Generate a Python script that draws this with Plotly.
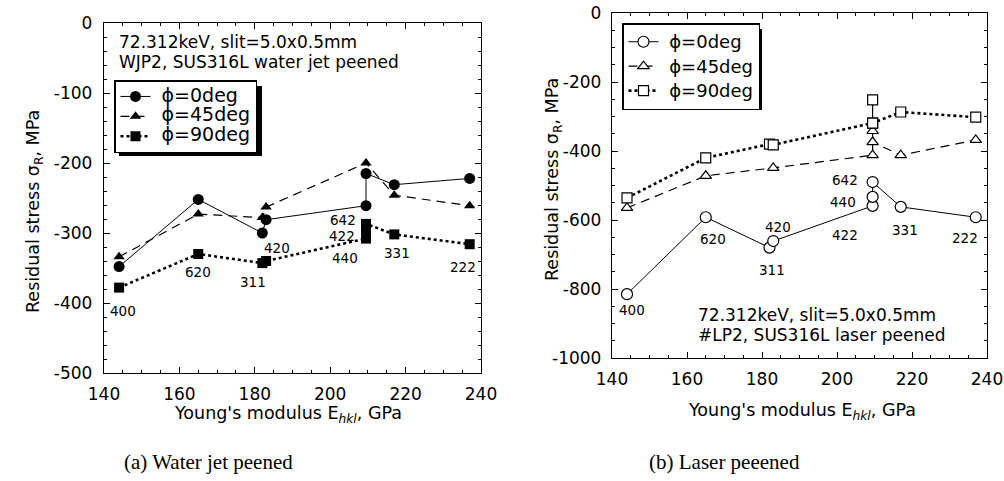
import plotly.graph_objects as go

# ---------------- data ----------------
hkl = ["400", "620", "311", "420", "422", "440", "642", "331", "222"]
E_hkl = [144, 165, 182, 183, 209.5, 209.5, 209.5, 217, 237]

# (a) water jet peened
wjp_0_x = [144, 165, 182, 183, 209.5, 209.5, 217, 237]
wjp_0_y = [-348, -252, -300, -281, -261, -215, -231, -222]
wjp_45_x = [144, 165, 182, 183, 209.5, 217, 237]
wjp_45_y = [-334, -273, -278, -263, -200, -246, -261]
wjp_90_x = [144, 165, 182, 183, 209.5, 209.5, 209.5, 217, 237]
wjp_90_y = [-378, -330, -343, -340, -308, -297, -287, -302, -316]

# (b) laser peened
lp_0_x = [144, 165, 182, 183, 209.5, 209.5, 209.5, 217, 237]
lp_0_y = [-815, -592, -680, -661, -559, -533, -490, -562, -592]
lp_45_x = [144, 165, 183, 209.5, 209.5, 209.5, 217, 237]
lp_45_y = [-565, -472, -449, -412, -342, -374, -412, -368]
lp_90_x = [144, 165, 182, 183, 209.5, 217, 237]
lp_90_y = [-536, -420, -380, -382, -319, -287, -302]
lp_90_extra_x = [209.5, 209.5]
lp_90_extra_y = [-319, -252]

# hkl label placement (data coords) for each panel
wjp_label_x = [145.0, 164.9, 179.5, 185.9, 203.1, 203.9, 203.4, 217.7, 235.2]
wjp_label_y = [-411, -355, -370, -321, -304, -335, -282, -328, -348]
lp_label_x = [145.3, 166.9, 182.7, 184.3, 202.1, 201.6, 202.1, 218.1, 234.1]
lp_label_y = [-861, -655, -745, -620, -643, -548, -484, -629, -652]

# ticks
x_ticks = [140, 160, 180, 200, 220, 240]
x_tick_text = ["140", "160", "180", "200", "220", "240"]
wjp_y_ticks = [0, -100, -200, -300, -400, -500]
wjp_y_tick_text = ["0", "-100", "-200", "-300", "-400", "-500"]
lp_y_ticks = [0, -200, -400, -600, -800, -1000]
lp_y_tick_text = ["0", "-200", "-400", "-600", "-800", "-1000"]

series_names = ["ϕ=0deg", "ϕ=45deg", "ϕ=90deg"]

# ---------------- figure ----------------
W, H = 1004, 481
FONT = "DejaVu Sans, Liberation Sans, sans-serif"
SERIF = "Liberation Serif, DejaVu Serif, serif"
fig = go.Figure()

def px2x(px):
    return px / W

def py2y(py):
    return 1 - py / H

line_styles = [dict(color="black", width=1, dash="solid"),
               dict(color="black", width=1.2, dash="9px,6px"),
               dict(color="black", width=2.6, dash="dot")]
syms = ["circle", "triangle-up", "square"]
msizes = [11, 10, 10]

for i, (xs, ys) in enumerate([(wjp_0_x, wjp_0_y), (wjp_45_x, wjp_45_y), (wjp_90_x, wjp_90_y)]):
    fig.add_trace(go.Scatter(
        x=xs, y=ys, mode="lines+markers",
        name="<span style='font-size:19px'>\u00a0" + series_names[i] + "</span>",
        line=line_styles[i],
        marker=dict(symbol=syms[i], size=msizes[i], color="black"),
        xaxis="x", yaxis="y", legend="legend"))

for i, (xs, ys) in enumerate([(lp_0_x, lp_0_y), (lp_45_x, lp_45_y), (lp_90_x, lp_90_y)]):
    fig.add_trace(go.Scatter(
        x=xs, y=ys, mode="lines+markers",
        name="<span style='font-size:18px'>\u00a0" + series_names[i] + "</span>",
        line=line_styles[i],
        marker=dict(symbol=syms[i], size=msizes[i], color="white",
                    line=dict(width=1.2, color="black")),
        xaxis="x2", yaxis="y2", legend="legend2"))

fig.add_trace(go.Scatter(
    x=lp_90_extra_x, y=lp_90_extra_y, mode="lines+markers", showlegend=False,
    line=dict(color="black", width=1.2),
    marker=dict(symbol="square", size=10, color="white",
                line=dict(width=1.2, color="black")),
    xaxis="x2", yaxis="y2"))

axis_common = dict(
    showgrid=False, zeroline=False, showline=True, linecolor="black", linewidth=1.3,
    mirror="allticks", ticks="inside", ticklen=6, tickwidth=1, tickcolor="black",
    tickfont=dict(family=FONT, size=17, color="black"), automargin=False,
    tickmode="array",
)

fig.update_layout(
    width=W, height=H,
    margin=dict(l=0, r=0, t=0, b=0),
    paper_bgcolor="white", plot_bgcolor="white",
    showlegend=True,
    xaxis=dict(**axis_common, domain=[px2x(104), px2x(481)], range=[140, 240],
               tickvals=x_ticks, ticktext=x_tick_text,
               minor=dict(dtick=5, ticks="inside", ticklen=3, tickcolor="black"),
               anchor="y", ticklabelstandoff=5),
    yaxis=dict(**axis_common, domain=[py2y(373), py2y(23)], range=[-500, 0],
               tickvals=wjp_y_ticks, ticktext=wjp_y_tick_text,
               minor=dict(dtick=20, ticks="inside", ticklen=3, tickcolor="black"),
               anchor="x", ticklabelstandoff=7),
    xaxis2=dict(**axis_common, domain=[px2x(612), px2x(987)], range=[140, 240],
                tickvals=x_ticks, ticktext=x_tick_text,
                minor=dict(dtick=5, ticks="inside", ticklen=3, tickcolor="black"),
                anchor="y2", ticklabelstandoff=5),
    yaxis2=dict(**axis_common, domain=[py2y(358), py2y(13)], range=[-1000, 0],
                tickvals=lp_y_ticks, ticktext=lp_y_tick_text,
                minor=dict(dtick=50, ticks="inside", ticklen=3, tickcolor="black"),
                anchor="x2", ticklabelstandoff=6),
    legend=dict(x=px2x(114), y=py2y(80), xanchor="left", yanchor="top",
                bgcolor="white", bordercolor="black", borderwidth=1.5,
                font=dict(family=FONT, size=13, color="black"),
                tracegroupgap=0, itemwidth=30),
    legend2=dict(x=px2x(622), y=py2y(23), xanchor="left", yanchor="top",
                 bgcolor="white", bordercolor="black", borderwidth=1.5,
                 font=dict(family=FONT, size=16.5, color="black"),
                 tracegroupgap=0, itemwidth=30),
)

# legend shadows
fig.add_shape(type="rect", xref="paper", yref="paper",
              x0=px2x(119), x1=px2x(262), y0=py2y(156), y1=py2y(86),
              fillcolor="black", line=dict(width=0), layer="above")
fig.add_shape(type="rect", xref="paper", yref="paper",
              x0=px2x(628), x1=px2x(762), y0=py2y(110), y1=py2y(29),
              fillcolor="black", line=dict(width=0), layer="above")

def note(x, y, text, font, xanchor="center", textangle=0, xref="paper", yref="paper"):
    fig.add_annotation(x=x, y=y, xref=xref, yref=yref, text=text, showarrow=False,
                       font=font, xanchor=xanchor, yanchor="middle", textangle=textangle)

# axis titles
xt = "Young's modulus E<sub><i>hkl</i></sub>, GPa"
yt = "Residual stress σ<sub>R</sub>, MPa"
tf = dict(family=FONT, size=17.5, color="black")
note(px2x(288), py2y(414), xt, tf)
note(px2x(802), py2y(411), xt, tf)
note(px2x(34), py2y(212), yt, tf, textangle=-90)
note(px2x(553), py2y(180), yt, tf, textangle=-90)

# hkl labels
lf = dict(family=FONT, size=13.5, color="black")
for lab, lx, ly in zip(hkl, wjp_label_x, wjp_label_y):
    note(lx, ly, lab, lf, xref="x", yref="y")
for lab, lx, ly in zip(hkl, lp_label_x, lp_label_y):
    note(lx, ly, lab, lf, xref="x2", yref="y2")

# condition texts
cf = dict(family=FONT, size=17, color="black")
note(px2x(117), py2y(42), "72.312keV, slit=5.0x0.5mm", cf, xanchor="left")
note(px2x(117), py2y(62), "WJP2, SUS316L water jet peened", cf, xanchor="left")
note(px2x(696), py2y(315), "72.312keV, slit=5.0x0.5mm", cf, xanchor="left")
note(px2x(696), py2y(335), "#LP2, SUS316L laser peened", cf, xanchor="left")

# captions
capf = dict(family=SERIF, size=21, color="black")
note(px2x(208), py2y(462), "(a) Water jet peened", capf)
note(px2x(724), py2y(462), "(b) Laser peeened", capf)

fig.write_html("out.html", config={"displayModeBar": False},
               post_script="document.body.style.margin='0';")
